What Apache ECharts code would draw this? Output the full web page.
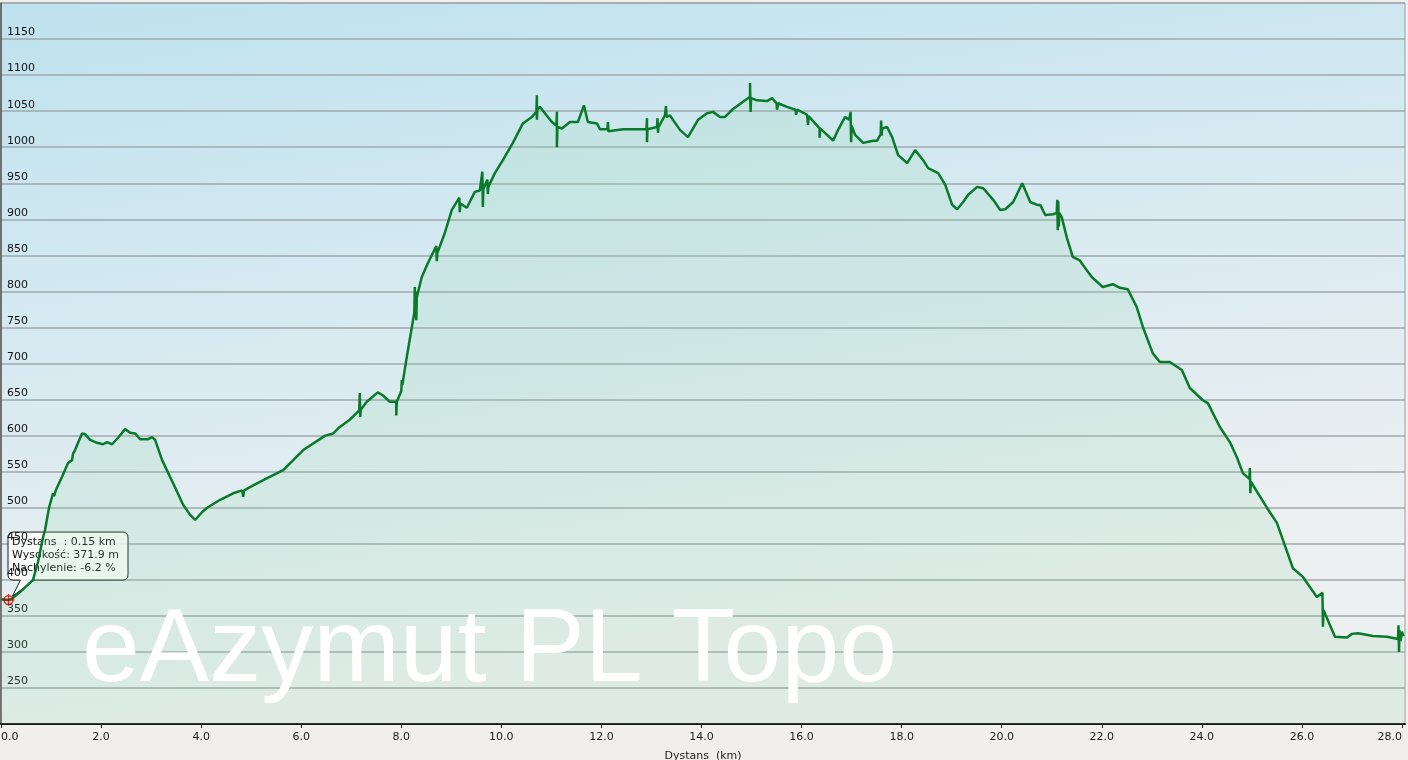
<!DOCTYPE html>
<html>
<head>
<meta charset="utf-8">
<script src="https://cdn.jsdelivr.net/npm/echarts@6/dist/echarts.min.js"></script>
<style>
html,body{margin:0;padding:0;background:#f0efed;overflow:hidden;}
#c{width:1408px;height:760px;}
</style>
</head>
<body>
<div id="c"></div>
<script>
// ---- data ----
const distanceKm = [
0.00,0.15,0.22,0.38,0.52,0.64,0.74,0.84,0.88,0.96,1.04,1.06,1.10,1.22,1.34,1.42,1.44,1.48,1.54,1.62,
1.68,1.78,1.92,2.04,2.12,2.22,2.34,2.48,2.58,2.68,2.78,2.94,3.02,3.08,3.22,3.44,3.64,3.78,3.88,4.02,
4.12,4.38,4.64,4.82,4.84,4.86,5.04,5.32,5.64,5.84,6.04,6.48,6.64,6.77,6.97,7.16,7.17,7.18,7.19,7.31,
7.53,7.63,7.77,7.90,7.90,7.91,8.00,8.01,8.02,8.11,8.21,8.26,8.27,8.28,8.29,8.30,8.31,8.41,8.53,8.70,
8.71,8.72,8.87,9.01,9.16,9.17,9.18,9.31,9.47,9.57,9.62,9.63,9.64,9.72,9.73,9.74,9.87,10.03,10.23,10.43,
10.61,10.70,10.71,10.71,10.72,10.77,10.87,11.01,11.10,11.11,11.11,11.12,11.21,11.37,11.53,11.65,11.73,11.91,11.97,12.12,
12.13,12.14,12.43,12.90,12.91,12.91,12.92,13.11,13.12,13.13,13.14,13.27,13.29,13.30,13.37,13.57,13.73,13.93,14.11,14.23,
14.37,14.47,14.63,14.83,14.97,14.97,14.98,14.99,15.11,15.31,15.41,15.50,15.51,15.53,15.71,15.88,15.89,15.91,16.11,16.13,
16.14,16.27,16.36,16.36,16.37,16.51,16.63,16.73,16.87,16.95,16.98,16.99,17.00,17.07,17.23,17.43,17.51,17.58,17.59,17.60,
17.61,17.71,17.81,17.93,18.11,18.27,18.43,18.53,18.73,18.87,19.01,19.11,19.23,19.33,19.51,19.63,19.83,19.97,20.07,20.23,
20.41,20.57,20.71,20.77,20.87,21.03,21.10,21.11,21.12,21.13,21.14,21.15,21.20,21.30,21.42,21.56,21.62,21.80,22.02,22.22,
22.36,22.52,22.70,22.82,23.02,23.16,23.36,23.60,23.76,24.02,24.12,24.36,24.56,24.70,24.82,24.95,24.96,24.97,24.98,25.30,
25.50,25.82,26.02,26.30,26.41,26.42,26.43,26.66,26.90,27.00,27.12,27.42,27.70,27.92,27.93,27.94,27.95,27.97,28.00,28.03
];
const elevationM = [
373,371.9,374,383,392,400,425,459,469,500,520,516,525,543,562,566,575,580,590,603,
602,594,590,588,591,588,597,609,604,603,595,595,598,594,566,534,504,490,483,494,
500,511,520,524,515,524,531,541,552,566,580,600,603,612,622,635,659,626,636,647,
660,656,647,647,628,647,662,677,670,709,750,770,806,765,800,760,792,820,839,863,
842,853,881,913,930,910,922,916,938,940,966,917,942,955,935,945,964,982,1006,1033,
1042,1049,1072,1038,1052,1056,1047,1035,1030,1049,1000,1028,1026,1035,1035,1058,1035,1033,1025,1025,
1035,1022,1025,1025,1040,1007,1025,1028,1040,1020,1028,1044,1057,1042,1044,1024,1014,1038,1047,1049,
1042,1042,1053,1063,1070,1089,1049,1068,1065,1064,1068,1061,1052,1061,1056,1052,1045,1052,1045,1031,
1043,1033,1026,1013,1026,1017,1009,1024,1042,1038,1049,1007,1030,1017,1006,1009,1009,1018,1037,1016,
1026,1028,1014,989,978,996,982,971,964,948,920,914,924,934,945,943,927,913,914,924,
950,924,920,920,906,907,909,927,885,925,890,909,903,875,848,843,837,820,806,810,
805,803,778,751,714,702,702,691,666,649,645,612,591,570,548,540,555,520,536,500,
479,416,404,376,382,335,358,321,320,325,326,322,321,318,337,300,330,315,328,322
];
const xTickValues = [0,2,4,6,8,10,12,14,16,18,20,22,24,26,28];
const yMin = 200, yMax = 1200, yStep = 50;
const xMax = 28.06;
const tipPoint = [0.15, 371.9];
const tipLines = ['Dystans  : 0.15 km', 'Wysokość: 371.9 m', 'Nachylenie: -6.2 %'];
const watermarkText = 'eAzymut PL Topo';
const xAxisName = 'Dystans  (km)';

const FONT = 'DejaVu Sans';
const chart = echarts.init(document.getElementById('c'), null, {renderer: 'canvas'});
const profile = distanceKm.map((d, i) => [d, elevationM[i]]);

const option = {
  animation: false,
  backgroundColor: '#f0efed',
  grid: {
    left: 1, right: 3, top: 3, bottom: 36, show: true, containLabel: false, outerBoundsMode: 'none',
    backgroundColor: {type: 'linear', x: 0, y: 0, x2: 0.08, y2: 1,
      colorStops: [{offset: 0, color: '#bee2ee'}, {offset: 0.5, color: '#d8eaf1'}, {offset: 1, color: '#edf0f1'}]},
    borderColor: '#9a9fa2', borderWidth: 1
  },
  xAxis: {
    type: 'value', min: 0, max: xMax,
    name: xAxisName, nameLocation: 'middle', nameGap: 27,
    nameTextStyle: {fontFamily: FONT, fontSize: 11, color: '#222'},
    axisLine: {show: true, onZero: false, lineStyle: {color: '#1a1a1a', width: 2}},
    axisTick: {show: true, length: 4, customValues: xTickValues, lineStyle: {color: '#1a1a1a', width: 1}},
    axisLabel: {customValues: xTickValues, formatter: v => v.toFixed(1), fontFamily: FONT, fontSize: 11,
      color: '#222', margin: 8, alignMinLabel: 'left', alignMaxLabel: 'right'},
    splitLine: {show: false}
  },
  yAxis: {
    type: 'value', min: yMin, max: yMax, interval: yStep,
    axisLine: {show: true, lineStyle: {color: '#555', width: 1.5}},
    axisTick: {show: false},
    axisLabel: {inside: true, margin: 6, verticalAlign: 'bottom', showMinLabel: false, showMaxLabel: false,
      formatter: v => String(v),
      fontFamily: FONT, fontSize: 11, color: '#111', padding: [0, 0, 1, 0]},
    splitLine: {show: true, lineStyle: {color: '#9fa8ab', width: 1.5}}
  },
  series: [
    {
      type: 'line', data: profile, showSymbol: false, symbol: 'none',
      lineStyle: {color: '#087a2a', width: 2.5},
      areaStyle: {color: 'rgba(140,215,165,0.24)', origin: 'start'},
      z: 3
    },
    {
      type: 'scatter', data: [tipPoint], z: 10,
      symbol: 'path://M6,0 L6,12 M0,6 L12,6 M6,1.5 A4.5,4.5 0 1 1 5.99,1.5',
      symbolSize: 12,
      itemStyle: {color: 'rgba(0,0,0,0)', borderColor: '#d40000', borderWidth: 1.4}
    }
  ]
};
chart.setOption(option);

const p = chart.convertToPixel({gridIndex: 0}, tipPoint);
const bx = p[0] - 0.5, by = p[1] - 68, bw = 120, bh = 48;
chart.setOption({
  graphic: [
    {
      type: 'text', z: 50, silent: true,
      style: {x: 82, y: 652, text: watermarkText, fill: '#ffffff',
        font: '104px "Liberation Sans", Arial, sans-serif', verticalAlign: 'middle', align: 'left'}
    },
    {
      type: 'group', z: 60, silent: true,
      children: [
        {type: 'rect', shape: {x: bx, y: by, width: bw, height: bh, r: 5},
          style: {fill: 'rgba(255,255,255,0.85)', stroke: '#1a1a1a', lineWidth: 1}},
        {type: 'polygon', shape: {points: [[p[0] + 12, by + bh - 1], [p[0] + 26, by + bh - 1], [p[0] + 4, p[1] - 4]]},
          style: {fill: 'rgba(255,255,255,0.85)', stroke: null}},
        {type: 'polyline', shape: {points: [[p[0] + 12, by + bh], [p[0] + 4, p[1] - 4], [p[0] + 26, by + bh]]},
          style: {fill: null, stroke: '#1a1a1a', lineWidth: 1}},
        {type: 'text', style: {x: bx + 4, y: by + 3, text: tipLines.join('\n'), fill: '#111',
          font: '11px "DejaVu Sans"', lineHeight: 13.3, verticalAlign: 'top', align: 'left'}}
      ]
    }
  ]
});
</script>
</body>
</html>
